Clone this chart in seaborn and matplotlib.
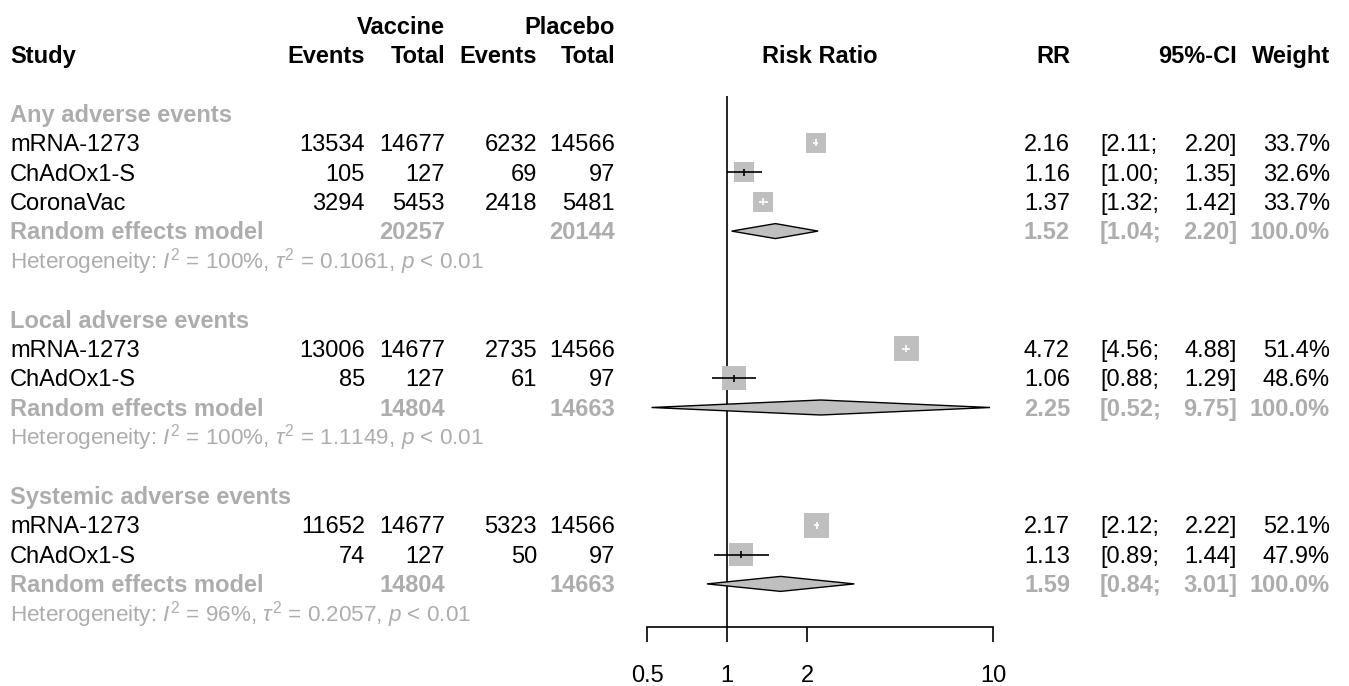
import matplotlib
matplotlib.use("Agg")
import matplotlib.pyplot as plt
import matplotlib.transforms as mtransforms
from matplotlib.ticker import FixedLocator, FixedFormatter, NullLocator
import numpy as np
import pandas as pd
import seaborn as sns

# ---------------- data ----------------
groups = ["Any adverse events", "Local adverse events", "Systemic adverse events"]
studies = [["mRNA-1273", "ChAdOx1-S", "CoronaVac"], ["mRNA-1273", "ChAdOx1-S"], ["mRNA-1273", "ChAdOx1-S"]]
vac_events = [[13534, 105, 3294], [13006, 85], [11652, 74]]
vac_total = [[14677, 127, 5453], [14677, 127], [14677, 127]]
pla_events = [[6232, 69, 2418], [2735, 61], [5323, 50]]
pla_total = [[14566, 97, 5481], [14566, 97], [14566, 97]]
rr = [[2.16, 1.16, 1.37], [4.72, 1.06], [2.17, 1.13]]
ci_low = [[2.11, 1.00, 1.32], [4.56, 0.88], [2.12, 0.89]]
ci_high = [[2.20, 1.35, 1.42], [4.88, 1.29], [2.22, 1.44]]
weight = [[33.7, 32.6, 33.7], [51.4, 48.6], [52.1, 47.9]]
re_rr = [1.52, 2.25, 1.59]
re_low = [1.04, 0.52, 0.84]
re_high = [2.20, 9.75, 3.01]
re_vac_total = [20257, 14804, 14804]
re_pla_total = [20144, 14663, 14663]
het_i2 = ["100%", "100%", "96%"]
het_tau2 = ["0.1061", "1.1149", "0.2057"]
het_p = ["< 0.01", "< 0.01", "< 0.01"]
x_ticks = [0.5, 1, 2, 10]
x_tick_labels = ["0.5", "1", "2", "10"]

# ---------------- style ----------------
sns.set_style("white")
plt.rcParams["font.family"] = ["Liberation Sans", "DejaVu Sans"]
plt.rcParams["mathtext.fontset"] = "custom"
plt.rcParams["mathtext.rm"] = "Liberation Sans"
plt.rcParams["mathtext.it"] = "Liberation Sans:italic"
plt.rcParams["mathtext.bf"] = "Liberation Sans:bold"

W, H = 1349, 686
FS = 17
FS_HET = 16.2
GREY = "#adadad"
SQ = "#bfbfbf"

fig = plt.figure(figsize=(W / 100, H / 100), dpi=100)
row0_px, row_h = 113.5, 29.4
ax_top_px, ax_bot_px = 85.0, 627.0
ax_left_px, ax_right_px = 647.0, 993.0
ax = fig.add_axes([ax_left_px / W, 1 - ax_bot_px / H,
                   (ax_right_px - ax_left_px) / W, (ax_bot_px - ax_top_px) / H])
ymin = (ax_top_px - row0_px) / row_h
ymax = (ax_bot_px - row0_px) / row_h

# build row table
recs, sums, hets, heads = [], [], [], []
r = 0
for g in range(len(groups)):
    heads.append((r, groups[g]))
    r += 1
    for i in range(len(studies[g])):
        recs.append(dict(row=r, study=studies[g][i], ve=vac_events[g][i], vt=vac_total[g][i],
                         pe=pla_events[g][i], pt=pla_total[g][i], rr=rr[g][i],
                         lo=ci_low[g][i], hi=ci_high[g][i], w=weight[g][i]))
        r += 1
    sums.append(dict(row=r, rr=re_rr[g], lo=re_low[g], hi=re_high[g],
                     vt=re_vac_total[g], pt=re_pla_total[g]))
    r += 1
    hets.append((r, het_i2[g], het_tau2[g], het_p[g]))
    r += 2
df = pd.DataFrame(recs)

ax.set_xscale("log")
# squares (area proportional to weight)
sns.scatterplot(data=df, x="rr", y="row", size="w", sizes=(0, 615), size_norm=(0, 100),
                marker="s", color=SQ, linewidth=0, legend=False, ax=ax, zorder=2)

px_per_dec = (ax_right_px - ax_left_px) / (np.log10(10) - np.log10(0.5))
for _, d in df.iterrows():
    side_px = 20 * np.sqrt(d.w / 33.7)
    span_px = (np.log10(d.hi) - np.log10(d.lo)) * px_per_dec
    col = "white" if span_px < side_px else "black"
    ax.hlines(d.row, d.lo, d.hi, color=col, lw=1.2, zorder=3)
    ax.vlines(d.rr, d.row - 0.12, d.row + 0.12, color=col, lw=1.2, zorder=3)

for s in sums:
    hh = 0.255
    ax.fill([s["lo"], s["rr"], s["hi"], s["rr"]], [s["row"], s["row"] - hh, s["row"], s["row"] + hh],
            facecolor=SQ, edgecolor="black", lw=1.0, zorder=3)

ax.vlines(1, (96 - row0_px) / row_h, ymax, color="black", lw=1.2, zorder=1)

ax.set_xlim(0.5, 10)
ax.set_ylim(ymax, ymin)
ax.set_xlabel("")
ax.set_ylabel("")
for sp in ["top", "left", "right"]:
    ax.spines[sp].set_visible(False)
ax.spines["bottom"].set_color("black")
ax.spines["bottom"].set_linewidth(1.2)
ax.xaxis.set_major_locator(FixedLocator(x_ticks))
ax.xaxis.set_major_formatter(FixedFormatter(x_tick_labels))
ax.xaxis.set_minor_locator(NullLocator())
ax.yaxis.set_major_locator(NullLocator())
ax.tick_params(axis="x", which="major", direction="out", length=10.5, width=1.2,
               color="black", labelsize=FS, pad=17, labelcolor="black", bottom=True)
ax.set_facecolor("none")
ax.grid(False)

# ---------------- text table ----------------
tr = mtransforms.blended_transform_factory(fig.transFigure, ax.transData)
BASE = 8.3 / row_h  # baseline offset so that digits are centred on the row


def T(xpx, row, s, ha="left", color="black", bold=False, size=FS):
    fig.text(xpx / W, row + BASE * size / FS, s, transform=tr, ha=ha, va="baseline", color=color,
             fontweight="bold" if bold else "normal", fontsize=size)


X_STUDY, X_VE, X_VT, X_PE, X_PT = 10, 365, 445, 537, 615
X_RR, X_CIL, X_CIR, X_W = 1070, 1100, 1237, 1330
X_MID = (ax_left_px + ax_right_px) / 2

T(X_VT, -3, "Vaccine", "right", bold=True)
T(X_PT, -3, "Placebo", "right", bold=True)
T(X_STUDY, -2, "Study", bold=True)
T(X_VE, -2, "Events", "right", bold=True)
T(X_VT, -2, "Total", "right", bold=True)
T(X_PE, -2, "Events", "right", bold=True)
T(X_PT, -2, "Total", "right", bold=True)
T(X_MID, -2, "Risk Ratio", "center", bold=True)
T(X_RR, -2, "RR", "right", bold=True)
T(X_CIR, -2, "95%-CI", "right", bold=True)
T(X_W, -2, "Weight", "right", bold=True)

for row, name in heads:
    T(X_STUDY, row, name, color=GREY, bold=True)

for _, d in df.iterrows():
    T(X_STUDY, d.row, d.study)
    T(X_VE, d.row, f"{d.ve:d}", "right")
    T(X_VT, d.row, f"{d.vt:d}", "right")
    T(X_PE, d.row, f"{d.pe:d}", "right")
    T(X_PT, d.row, f"{d.pt:d}", "right")
    T(X_RR, d.row, f"{d.rr:.2f}", "right")
    T(X_CIL, d.row, f"[{d.lo:.2f};", "left")
    T(X_CIR, d.row, f"{d.hi:.2f}]", "right")
    T(X_W, d.row, f"{d.w:.1f}%", "right")

for s in sums:
    T(X_STUDY, s["row"], "Random effects model", color=GREY, bold=True)
    T(X_VT, s["row"], f"{s['vt']}", "right", color=GREY, bold=True)
    T(X_PT, s["row"], f"{s['pt']}", "right", color=GREY, bold=True)
    T(X_RR, s["row"], f"{s['rr']:.2f}", "right", color=GREY, bold=True)
    T(X_CIL, s["row"], f"[{s['lo']:.2f};", "left", color=GREY, bold=True)
    T(X_CIR, s["row"], f"{s['hi']:.2f}]", "right", color=GREY, bold=True)
    T(X_W, s["row"], "100.0%", "right", color=GREY, bold=True)

for row, i2, t2, p in hets:
    T(X_STUDY, row,
      r"Heterogeneity: $\mathit{I}^2$ = " + i2 + r", $\tau^2$ = " + t2 + r", $\mathit{p}$ " + p,
      color=GREY, size=FS_HET)

fig.savefig("out.png", dpi=100, facecolor="white")
